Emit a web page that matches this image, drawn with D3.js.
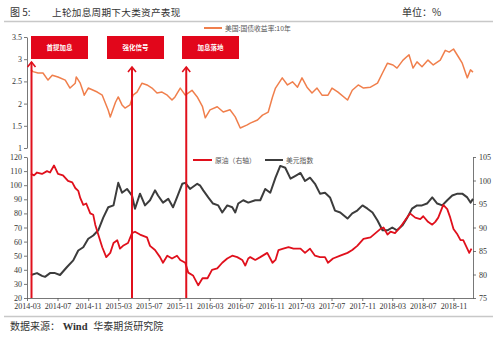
<!DOCTYPE html>
<html><head><meta charset="utf-8">
<script src="https://cdn.jsdelivr.net/npm/d3@7"></script>
<style>body{margin:0;background:#fff}svg{display:block}</style>
</head><body>
<svg id="c" width="500" height="337"></svg>
<script>
// ---- data ----
const yieldDates = ["2014-03-17","2014-03-25","2014-04-14","2014-05-04","2014-05-24","2014-06-10","2014-07-03","2014-08-01","2014-08-20","2014-09-10","2014-09-14","2014-09-30","2014-10-12","2014-10-16","2014-11-01","2014-12-07","2014-12-27","2015-01-20","2015-01-28","2015-02-18","2015-03-01","2015-03-16","2015-03-28","2015-04-17","2015-04-29","2015-05-15","2015-06-04","2015-06-24","2015-07-14","2015-08-03","2015-08-23","2015-09-13","2015-10-02","2015-10-14","2015-11-04","2015-11-24","2015-12-21","2016-01-11","2016-02-01","2016-02-12","2016-03-02","2016-03-31","2016-04-24","2016-05-21","2016-06-11","2016-07-01","2016-07-29","2016-08-10","2016-09-08","2016-09-28","2016-10-21","2016-11-07","2016-11-19","2016-12-16","2017-01-06","2017-01-26","2017-02-15","2017-03-05","2017-03-25","2017-04-14","2017-05-04","2017-05-24","2017-06-17","2017-07-03","2017-07-27","2017-09-03","2017-09-22","2017-10-16","2017-11-06","2017-12-04","2018-01-01","2018-01-21","2018-02-10","2018-03-04","2018-03-20","2018-04-13","2018-05-07","2018-05-23","2018-06-08","2018-06-28","2018-07-22","2018-08-12","2018-09-09","2018-09-29","2018-10-15","2018-11-01","2018-11-21","2018-12-06","2018-12-18","2018-12-26","2019-01-08","2019-01-18"];
const yieldValues = [2.76,2.72,2.69,2.69,2.53,2.64,2.60,2.53,2.35,2.46,2.60,2.46,2.26,2.19,2.35,2.26,2.19,1.85,1.70,2.03,2.15,1.97,1.90,1.97,2.19,2.26,2.46,2.42,2.35,2.24,2.26,2.19,2.08,2.15,2.35,2.19,2.30,2.15,1.93,1.68,1.86,1.93,1.81,1.86,1.70,1.45,1.52,1.56,1.63,1.74,1.81,2.15,2.35,2.58,2.42,2.49,2.37,2.58,2.37,2.24,2.35,2.19,2.19,2.35,2.26,2.08,2.30,2.42,2.35,2.37,2.46,2.69,2.91,2.87,2.80,2.98,3.10,2.80,2.94,2.83,2.98,2.87,2.98,3.20,3.16,3.23,3.05,2.91,2.71,2.58,2.76,2.71];

const oilDates = ["2014-03-17","2014-03-29","2014-04-10","2014-04-30","2014-05-20","2014-06-01","2014-06-17","2014-07-03","2014-07-23","2014-08-12","2014-08-29","2014-09-10","2014-09-22","2014-09-30","2014-10-12","2014-10-24","2014-11-09","2014-11-21","2014-11-29","2014-12-11","2014-12-27","2015-01-12","2015-01-28","2015-02-10","2015-02-25","2015-03-08","2015-03-20","2015-04-09","2015-04-25","2015-05-07","2015-05-27","2015-06-24","2015-07-06","2015-07-26","2015-08-15","2015-08-27","2015-09-13","2015-10-02","2015-10-22","2015-11-04","2015-11-24","2015-12-06","2015-12-25","2016-01-15","2016-02-01","2016-02-21","2016-03-10","2016-03-31","2016-04-20","2016-05-10","2016-05-30","2016-06-19","2016-07-09","2016-07-21","2016-08-02","2016-08-10","2016-08-30","2016-09-19","2016-10-17","2016-11-07","2016-11-19","2016-12-01","2016-12-20","2017-01-10","2017-01-30","2017-02-27","2017-03-17","2017-04-06","2017-04-26","2017-05-16","2017-06-05","2017-06-17","2017-07-07","2017-08-05","2017-09-03","2017-09-22","2017-10-12","2017-11-06","2017-12-04","2017-12-24","2018-01-13","2018-01-25","2018-02-10","2018-02-22","2018-03-12","2018-04-01","2018-04-21","2018-05-11","2018-06-01","2018-06-21","2018-07-03","2018-07-22","2018-08-08","2018-08-20","2018-09-01","2018-09-21","2018-10-07","2018-10-19","2018-11-01","2018-11-17","2018-11-29","2018-12-10","2018-12-26","2019-01-03","2019-01-12"];
const oilValues = [108,107,109,108,110,109,114,108,107,103,102,98,96,91,86,87,80,79,72,65,56,49,52,59,61,55,57,59,66,67,65,63,57,54,49,45,50,48,50,47,45,38,36,29,34,34,40,41,45,48,50,49,47,43,48,49,47,49,52,45,47,54,55,56,55,55,52,55,50,49,49,45,48,50,52,54,57,62,63,66,69,70,65,67,66,70,75,80,77,76,78,74,72,74,77,86,83,77,69,65,61,61,55,52,55];

const usdDates = ["2014-03-17","2014-04-10","2014-04-30","2014-05-12","2014-06-01","2014-06-21","2014-07-11","2014-08-08","2014-09-02","2014-09-22","2014-10-12","2014-11-01","2014-11-21","2014-12-11","2014-12-31","2015-01-20","2015-02-10","2015-03-01","2015-03-16","2015-04-05","2015-04-25","2015-05-07","2015-05-27","2015-06-16","2015-07-06","2015-07-26","2015-08-07","2015-08-27","2015-09-17","2015-10-06","2015-10-22","2015-11-12","2015-11-24","2015-12-13","2016-01-11","2016-01-23","2016-02-04","2016-02-24","2016-03-14","2016-04-04","2016-04-20","2016-05-10","2016-05-30","2016-06-11","2016-06-23","2016-07-13","2016-08-02","2016-08-30","2016-09-19","2016-10-09","2016-10-29","2016-11-19","2016-12-08","2016-12-28","2017-01-18","2017-02-07","2017-02-27","2017-03-17","2017-04-06","2017-04-26","2017-05-16","2017-06-05","2017-06-25","2017-07-15","2017-08-05","2017-09-03","2017-09-22","2017-10-12","2017-11-02","2017-11-22","2017-12-12","2018-01-01","2018-01-21","2018-02-10","2018-03-01","2018-03-20","2018-04-10","2018-04-30","2018-05-19","2018-06-08","2018-06-28","2018-07-18","2018-08-08","2018-08-28","2018-09-17","2018-10-07","2018-10-27","2018-11-17","2018-12-06","2018-12-26","2019-01-08","2019-01-18"];
const usdValues = [79.9,80.3,79.7,79.5,80.3,80.3,79.9,81.6,83.0,85.1,85.8,87.6,88.3,89.4,92.1,94.3,94.7,99.5,97.4,98.2,96.8,94.0,97.2,94.7,95.8,97.9,96.8,95.3,96.1,94.3,96.4,99.3,99.5,98.2,99.3,98.9,97.9,96.4,95.1,94.7,93.2,94.7,94.3,93.2,95.1,95.8,95.3,95.8,95.8,98.2,97.4,100.6,103.1,102.7,100.4,101.0,101.6,99.9,100.6,99.3,97.2,97.4,96.4,93.6,93.2,91.9,93.0,93.6,94.7,94.0,93.2,91.5,89.4,89.4,90.0,89.4,90.4,92.1,94.0,94.7,94.7,95.1,96.4,95.1,94.7,95.8,96.8,97.2,97.2,96.4,95.3,96.1];

const eventDates = ["2014-03-19","2015-04-25","2015-11-28"];
const eventLabels = ["首提加息","强化信号","加息落地"];
const xTickLabels = ["2014-03","2014-07","2014-11","2015-03","2015-07","2015-11","2016-03","2016-07","2016-11","2017-03","2017-07","2017-11","2018-03","2018-07","2018-11"];
const yTopTicks = [1,1.5,2,2.5,3,3.5];
const yLeftTicks = [20,30,40,50,60,70,80,90,100,110,120];
const yRightTicks = [75,80,85,90,95,100,105];
const seriesNames = ["美国:国债收益率:10年","原油（右轴）","美元指数"];

// ---- drawing ----
const parse = d3.utcParse("%Y-%m-%d");
const parseM = d3.utcParse("%Y-%m");
const svg = d3.select("#c");
const serif = "'Liberation Serif','DejaVu Serif',serif";
const cjk = "'Noto Sans CJK SC','Noto Sans',sans-serif";
const RED = "#e0101c", ORANGE = "#f07f4c", DARK = "#3c3c3c", AX = "#555";

const x = d3.scaleUtc().domain([parse("2014-03-01"), parse("2019-01-18")]).range([27, 473]);
const yTop = d3.scaleLinear().domain([1, 3.5]).range([148, 37]);
const yL = d3.scaleLinear().domain([20, 120]).range([298, 157]);
const yR = d3.scaleLinear().domain([75, 105]).range([298, 157]);

// title
svg.append("text").attr("x", 10).attr("y", 16).attr("font-family", cjk).attr("font-size", 10).attr("fill", "#333").text("图 5:");
svg.append("text").attr("x", 52).attr("y", 16).attr("font-family", cjk).attr("font-size", 9.6).attr("letter-spacing", 0.3).attr("fill", "#333").text("上轮加息周期下大类资产表现");
svg.append("text").attr("x", 402).attr("y", 16).attr("font-family", cjk).attr("font-size", 10).attr("fill", "#333").text("单位：%");
svg.append("line").attr("x1", 4).attr("x2", 493).attr("y1", 21.5).attr("y2", 21.5).attr("stroke", "#c8c8c8").attr("stroke-width", 1.5);
svg.append("line").attr("x1", 4).attr("x2", 493).attr("y1", 316.5).attr("y2", 316.5).attr("stroke", "#c8c8c8").attr("stroke-width", 1.5);
const src = svg.append("text").attr("x", 10).attr("y", 330).attr("font-family", cjk).attr("font-size", 10).attr("fill", "#333");
src.append("tspan").text("数据来源：");
src.append("tspan").attr("font-family", serif).attr("font-weight", "bold").attr("font-size", 10.5).text(" Wind ");
src.append("tspan").attr("dx", 3).text("华泰期货研究院");

function styleAxis(g) {
  g.selectAll("path,line").attr("stroke", AX).attr("stroke-width", 0.8);
  g.selectAll("text").attr("font-family", serif).attr("font-size", 8).attr("fill", "#333");
}

// top axis
const gTop = svg.append("g").attr("transform", "translate(27,0)")
  .call(d3.axisLeft(yTop).tickValues(yTopTicks).tickFormat(d => String(d)).tickSize(3).tickSizeOuter(0).tickPadding(2));
styleAxis(gTop);

// bottom axes
const gL = svg.append("g").attr("transform", "translate(27,0)")
  .call(d3.axisLeft(yL).tickValues(yLeftTicks).tickSize(3).tickSizeOuter(0).tickPadding(2));
styleAxis(gL);
const gR = svg.append("g").attr("transform", "translate(473,0)")
  .call(d3.axisRight(yR).tickValues(yRightTicks).tickSize(3).tickSizeOuter(0).tickPadding(3));
styleAxis(gR);
const gX = svg.append("g").attr("transform", "translate(0,298)")
  .call(d3.axisBottom(x).tickValues(xTickLabels.map(parseM)).tickFormat(d3.utcFormat("%Y-%m")).tickSize(3).tickSizeOuter(0).tickPadding(2));
styleAxis(gX);

// series
const yieldData = yieldDates.map((d, i) => [parse(d), yieldValues[i]]);
const oilData = oilDates.map((d, i) => [parse(d), oilValues[i]]);
const usdData = usdDates.map((d, i) => [parse(d), usdValues[i]]);

svg.append("path").datum(yieldData).attr("fill", "none").attr("stroke", ORANGE).attr("stroke-width", 1.5)
  .attr("stroke-linejoin", "round").attr("d", d3.line().x(d => x(d[0])).y(d => yTop(d[1])));
svg.append("path").datum(usdData).attr("fill", "none").attr("stroke", DARK).attr("stroke-width", 2)
  .attr("stroke-linejoin", "round").attr("d", d3.line().x(d => x(d[0])).y(d => yR(d[1])));
svg.append("path").datum(oilData).attr("fill", "none").attr("stroke", RED).attr("stroke-width", 1.8)
  .attr("stroke-linejoin", "round").attr("d", d3.line().x(d => x(d[0])).y(d => yL(d[1])));

// legends
svg.append("line").attr("x1", 204).attr("x2", 222).attr("y1", 28).attr("y2", 28).attr("stroke", ORANGE).attr("stroke-width", 2);
svg.append("text").attr("x", 225).attr("y", 30.5).attr("font-family", cjk).attr("font-size", 6.8).attr("fill", "#555").text(seriesNames[0]);
svg.append("line").attr("x1", 193).attr("x2", 212).attr("y1", 160).attr("y2", 160).attr("stroke", RED).attr("stroke-width", 2);
svg.append("text").attr("x", 215).attr("y", 162.5).attr("font-family", cjk).attr("font-size", 6.8).attr("fill", "#555").text(seriesNames[1]);
svg.append("line").attr("x1", 265).attr("x2", 283).attr("y1", 160).attr("y2", 160).attr("stroke", DARK).attr("stroke-width", 2);
svg.append("text").attr("x", 286).attr("y", 162.5).attr("font-family", cjk).attr("font-size", 6.8).attr("fill", "#555").text(seriesNames[2]);

// event lines with arrows
const tipY = [62, 67, 67];
const boxX = [31, 107, 182];
eventDates.forEach((d, i) => {
  const ex = x(parse(d));
  svg.append("line").attr("x1", ex).attr("x2", ex).attr("y1", tipY[i]).attr("y2", 298)
    .attr("stroke", RED).attr("stroke-width", 2);
  svg.append("polyline").attr("points", `${ex - 4},${tipY[i] + 5} ${ex},${tipY[i]} ${ex + 4},${tipY[i] + 5}`)
    .attr("fill", "none").attr("stroke", RED).attr("stroke-width", 1.6);
  svg.append("rect").attr("x", boxX[i]).attr("y", 36).attr("width", 57).attr("height", 23).attr("fill", "#e2061b");
  svg.append("text").attr("x", boxX[i] + 28.5).attr("y", 50).attr("text-anchor", "middle")
    .attr("font-family", cjk).attr("font-weight", "bold").attr("font-size", 6.5).attr("fill", "#fff").text(eventLabels[i]);
});
</script>
</body></html>
